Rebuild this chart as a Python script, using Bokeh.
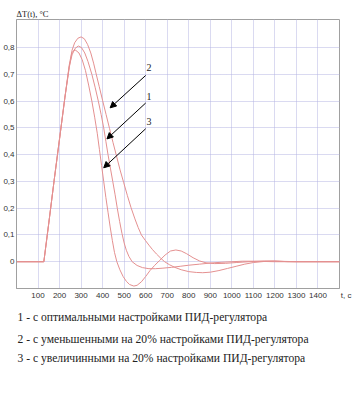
from bokeh.plotting import figure
from bokeh.models import Range1d, FixedTicker, Label, Arrow, NormalHead, Title
from bokeh.embed import file_html
from bokeh.resources import INLINE

# ---- data ----
x_ticks = [100, 200, 300, 400, 500, 600, 700, 800, 900, 1000, 1100, 1200, 1300, 1400]
x_axis_unit = "\u00a0\u00a0\u00a0\u00a0\u00a0\u00a0t, c"
y_ticks = [0, 0.1, 0.2, 0.3, 0.4, 0.5, 0.6, 0.7, 0.8]
y_tick_labels = ["0", "0,1", "0,2", "0,3", "0,4", "0,5", "0,6", "0,7", "0,8"]

# curve 1 - optimal settings
t1 = [0, 127, 150, 175, 200, 225, 245, 258, 272, 287, 302, 317, 332, 350, 365, 380, 393, 405, 415,
      425, 436, 447, 458, 468, 479, 490, 500, 510, 522, 537, 560, 585, 615, 645, 680, 720, 760, 800,
      850, 900, 950, 1000, 1050, 1100, 1150, 1200, 1500]
y1 = [0, 0, 0.145, 0.305, 0.46, 0.615, 0.73, 0.773, 0.797, 0.806, 0.8, 0.78, 0.748, 0.7, 0.652, 0.6,
      0.55, 0.5, 0.45, 0.4, 0.35, 0.3, 0.25, 0.2, 0.15, 0.105, 0.07, 0.043, 0.02, 0.0, -0.014, -0.022,
      -0.026, -0.026, -0.024, -0.021, -0.017, -0.013, -0.009, -0.005, -0.002, 0.0, 0.002, 0.002,
      0.001, 0.0, 0.0]

# curve 2 - settings decreased by 20%
t2 = [0, 127, 150, 175, 200, 225, 245, 258, 270, 285, 300, 315, 330, 345, 358, 368, 384, 400, 416,
      432, 448, 465, 481, 498, 515, 532, 550, 565, 580, 598, 615, 632, 650, 670, 688, 710, 735, 765,
      800, 835, 865, 900, 940, 980, 1020, 1060, 1100, 1150, 1200, 1260, 1300, 1500]
y2 = [0, 0, 0.145, 0.305, 0.46, 0.615, 0.735, 0.79, 0.818, 0.835, 0.84, 0.833, 0.812, 0.78, 0.742,
      0.708, 0.655, 0.602, 0.55, 0.498, 0.446, 0.393, 0.343, 0.295, 0.247, 0.202, 0.16, 0.128, 0.1,
      0.08, 0.062, 0.045, 0.029, 0.013, 0.0, -0.011, -0.021, -0.03, -0.037, -0.04, -0.041, -0.039,
      -0.033, -0.025, -0.017, -0.009, -0.003, 0.001, 0.002, 0.001, 0.0, 0.0]

# curve 3 - settings increased by 20%
t3 = [0, 127, 150, 175, 200, 225, 245, 257, 265, 275, 290, 305, 320, 335, 350, 363, 375, 385, 395,
      405, 415, 425, 435, 445, 455, 466, 480, 495, 510, 525, 545, 560, 580, 600, 620, 640, 665, 690,
      715, 740, 765, 790, 820, 850, 880, 920, 970, 1020, 1080, 1150, 1200, 1260, 1500]
y3 = [0, 0, 0.145, 0.305, 0.46, 0.615, 0.725, 0.78, 0.789, 0.79, 0.78, 0.755, 0.715, 0.66, 0.6, 0.54,
      0.48, 0.42, 0.36, 0.3, 0.24, 0.185, 0.13, 0.08, 0.035, 0.0, -0.03, -0.055, -0.073, -0.085,
      -0.091, -0.088, -0.075, -0.055, -0.033, -0.015, 0.005, 0.025, 0.04, 0.044, 0.04, 0.03, 0.015,
      0.003, -0.004, -0.007, -0.006, -0.003, 0.0, 0.003, 0.003, 0.0, 0.0]

curve_names = ["1", "2", "3"]
# arrow annotations (start -> tip, data units) and curve number positions
arrow_start_x = [600, 600, 600]
arrow_start_y = [0.593, 0.696, 0.497]
arrow_tip_x = [420, 435, 405]
arrow_tip_y = [0.459, 0.575, 0.351]
num_x = [615, 615, 615]
num_y = [0.617, 0.725, 0.524]

y_title = "ΔT(t), °C"
caption = [
    "1 - с оптимальными настройками ПИД-регулятора",
    "2 - с уменьшенными на 20% настройками ПИД-регулятора",
    "3 - с увеличинными на 20% настройками ПИД-регулятора",
]
caption_standoff = [12, 3, 4]

# ---- figure ----
p = figure(width=355, height=398, x_range=Range1d(0, 1500), y_range=Range1d(-0.1, 0.905),
           output_backend="svg", toolbar_location=None,
           min_border_left=14, min_border_right=16, min_border_top=19, min_border_bottom=110)
p.background_fill_color = "white"
p.border_fill_color = "white"
p.outline_line_color = "#a0a0a0"
p.outline_line_width = 1

p.title.text = y_title
p.title.align = "left"
p.title.text_font = "Liberation Serif"
p.title.text_font_size = "8.5px"
p.title.text_font_style = "normal"
p.title.text_color = "#222222"
p.title.standoff = 2
p.title.offset = 0

p.xaxis.ticker = FixedTicker(ticks=x_ticks + [1500])
p.xaxis.major_label_overrides = {1500: x_axis_unit}
p.yaxis.ticker = FixedTicker(ticks=y_ticks)
p.yaxis.major_label_overrides = {v: s for v, s in zip(y_ticks, y_tick_labels)}
for ax in (p.xaxis, p.yaxis):
    ax.major_tick_in = 0
    ax.major_tick_out = 0
    ax.minor_tick_line_color = None
    ax.major_tick_line_color = None
    ax.axis_line_color = "#a0a0a0"
    ax.major_label_text_font = "Liberation Sans"
    ax.major_label_text_font_size = "8px"
    ax.major_label_text_color = "#333333"
p.xaxis.major_label_standoff = 2
p.yaxis.major_label_standoff = 2

p.xgrid.ticker = FixedTicker(ticks=x_ticks)
p.ygrid.ticker = FixedTicker(ticks=y_ticks)
for g in (p.xgrid, p.ygrid):
    g.grid_line_color = "#b4b4e2"
    g.grid_line_dash = "1 1"
    g.grid_line_width = 1

curve_color = "#e49090"
p.line(t1, y1, line_color=curve_color, line_width=1)
p.line(t2, y2, line_color=curve_color, line_width=1)
p.line(t3, y3, line_color=curve_color, line_width=1)

for sx, sy, ex, ey in zip(arrow_start_x, arrow_start_y, arrow_tip_x, arrow_tip_y):
    p.add_layout(Arrow(x_start=sx, y_start=sy, x_end=ex, y_end=ey, line_color="black", line_width=1,
                       end=NormalHead(size=6, fill_color="black", line_color="black")))
for nx, ny, nm in zip(num_x, num_y, curve_names):
    p.add_layout(Label(x=nx, y=ny, text=nm, text_font="Liberation Serif", text_font_size="10px",
                       text_align="center", text_baseline="middle", text_color="#222222"))

for ct, so in zip(caption, caption_standoff):
    p.add_layout(Title(text=ct, align="left", offset=1, standoff=so, text_font="Liberation Serif",
                       text_font_size="11.6px", text_font_style="normal", text_color="#222222"),
                 "below")

open("out.html", "w").write(file_html(p, INLINE))
